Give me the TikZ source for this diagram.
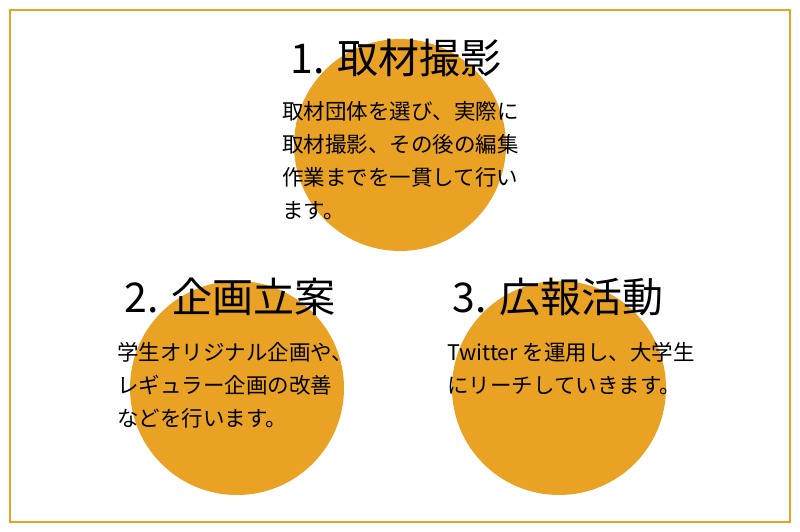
\documentclass[tikz,border=0pt]{standalone}
\usepackage{fontspec}
\setmainfont{Noto Sans CJK JP}
\definecolor{org}{HTML}{E9A223}
\begin{document}
\begin{tikzpicture}[x=1pt,y=-1pt,
  circ/.style={circle,fill=org,minimum size=#1,inner sep=0pt},
  ttl/.style={font=\fontsize{41}{44}\selectfont,inner sep=0pt},
  body/.style={font=\fontsize{21.5}{33}\selectfont,align=left,anchor=north west,inner sep=0pt}]
\useasboundingbox (0,0) rectangle (800,532);
\draw[org,line width=2pt] (10,10) rectangle (790,522) node[coordinate](frame){};
\node[circ=212pt] (c1) at (400,145) {};
\node[circ=214pt] (c2) at (237,388) {};
\node[circ=214pt] (c3) at (559,388) {};
\node[ttl] (t1) at (396,58) {1. 取材撮影};
\node[ttl] (t2) at (230,297) {2. 企画立案};
\node[ttl] (t3) at (558,297) {3. 広報活動};
\node[body] (b1) at (282,101) {取材団体を選び、実際に\\取材撮影、その後の編集\\作業までを一貫して行い\\ます。};
\node[body] (b2) at (117,342) {学生オリジナル企画や、\\レギュラー企画の改善\\などを行います。};
\node[body] (b3) at (447,342) {Twitter を運用し、大学生\\にリーチしていきます。};
\end{tikzpicture}
\end{document}
